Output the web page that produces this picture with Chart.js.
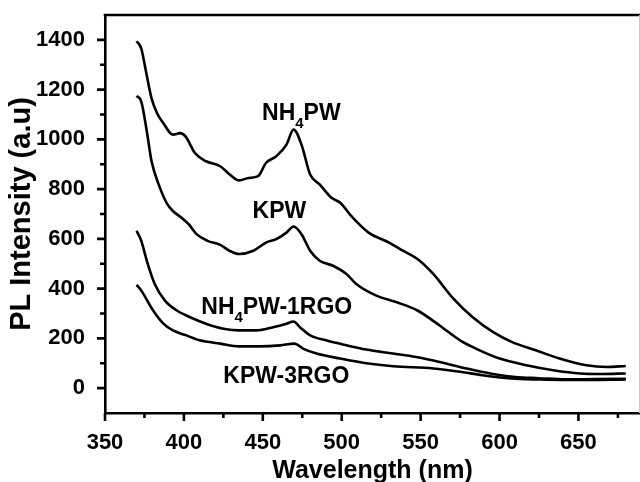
<!DOCTYPE html>
<html lang="en">
<head>
    <meta charset="UTF-8">
    <title>PL Intensity</title>
    <script src="https://cdn.jsdelivr.net/npm/chart.js"></script>
    <style>
        body { margin: 0; background: #fff; }
        canvas { display: block; }
    </style>
</head>
<body>
    <canvas id="plChart" width="640" height="482"></canvas>

    <script>
        // spectra
        const nh4pwX = [370, 373, 376, 379.5, 383, 387, 393, 397.5, 401, 407, 414, 423, 429, 435, 441, 447, 452, 458.5, 465, 469.5, 474.5, 480, 486, 493.5, 499, 507, 517, 530, 539, 548, 558, 570, 583, 596, 608, 623, 638, 655, 668, 680];
        const nh4pwY = [1395, 1365, 1272, 1165, 1105, 1065, 1019, 1025, 1012, 945, 912, 892, 859, 835, 845, 852, 905, 932, 979, 1040, 979, 859, 819, 765, 745, 685, 625, 585, 552, 519, 459, 365, 285, 225, 185, 152, 119, 92, 85, 89];

        const kpwX = [370, 373, 376.5, 379.5, 384, 389, 393, 398.5, 403, 408, 415, 423, 429, 435, 444, 452, 458.5, 465, 469.5, 474.5, 480, 486, 494.5, 503, 509, 522, 535, 548, 562, 575, 585, 600, 617, 634, 651, 665, 680];
        const kpwY = [1175, 1152, 1032, 912, 819, 745, 712, 685, 659, 619, 592, 576, 552, 539, 552, 585, 599, 625, 650, 619, 552, 512, 492, 459, 420, 372, 345, 312, 252, 192, 159, 119, 92, 72, 59, 57, 59];

        const nh4pwRgoX = [370, 373, 376.5, 381.5, 388, 395.5, 404, 414, 425, 435, 446, 456.5, 465, 469.5, 473.5, 480, 490, 503, 515.5, 532.5, 547, 562, 579, 595, 610, 625, 642, 660, 680];
        const nh4pwRgoY = [632, 592, 512, 419, 352, 312, 285, 259, 239, 232, 232, 245, 259, 268, 245, 212, 192, 172, 155, 139, 125, 105, 79, 58, 45, 40, 35, 36, 37];

        const kpwRgoX = [370, 373, 380.5, 387, 393, 401.5, 410, 423, 435, 448, 461, 470, 475.5, 484, 499, 515.5, 532.5, 558, 575, 589, 610, 630, 650, 680];
        const kpwRgoY = [415, 392, 312, 259, 232, 212, 192, 179, 168, 168, 172, 179, 159, 139, 119, 100, 88, 79, 66, 52, 38, 34, 33, 35];

        // axis ticks
        const xTicks = [350, 400, 450, 500, 550, 600, 650];
        const xMinor = [375, 425, 475, 525, 575, 625, 675];
        const yTicks = [0, 200, 400, 600, 800, 1000, 1200, 1400];
        const yMinor = [100, 300, 500, 700, 900, 1100, 1300];

        // curve labels: [main text, subscript, rest, wavelength, intensity]
        const curveLabels = [
            ['NH', '4', 'PW', 449.5, 1079],
            ['KPW', '', '', 443.5, 684],
            ['NH', '4', 'PW-1RGO', 411, 299],
            ['KPW-3RGO', '', '', 425, 19]
        ];

        const FONT = '"Liberation Sans", Arial, sans-serif';

        function toPoints(xs, ys) {
            return xs.map((x, i) => ({ x: x, y: ys[i] }));
        }

        function line(label, xs, ys) {
            return {
                label: label,
                data: toPoints(xs, ys),
                borderColor: '#000',
                borderWidth: 2.6,
                pointRadius: 0,
                fill: false,
                cubicInterpolationMode: 'monotone'
            };
        }

        // no extra room for the end labels, the frame is set by hand
        function noPad(s) {
            s.paddingTop = 0;
            s.paddingBottom = 0;
            s.paddingLeft = 0;
            s.paddingRight = 0;
        }

        const frame = {
            id: 'frame',
            afterDraw(chart) {
                const ctx = chart.ctx;
                const a = chart.chartArea;
                const xs = chart.scales.x, ys = chart.scales.y;
                ctx.save();
                ctx.strokeStyle = '#000';
                ctx.lineWidth = 2.6;
                ctx.lineCap = 'butt';

                // top edge
                ctx.beginPath();
                ctx.moveTo(a.left - 1.3, a.top);
                ctx.lineTo(a.right, a.top);
                ctx.stroke();

                // outward ticks, long on labels, short between
                ctx.beginPath();
                yTicks.forEach(v => {
                    const p = ys.getPixelForValue(v);
                    ctx.moveTo(a.left, p); ctx.lineTo(a.left - 8, p);
                });
                yMinor.forEach(v => {
                    const p = ys.getPixelForValue(v);
                    ctx.moveTo(a.left, p); ctx.lineTo(a.left - 5, p);
                });
                xTicks.forEach(v => {
                    const p = xs.getPixelForValue(v);
                    ctx.moveTo(p, a.bottom); ctx.lineTo(p, a.bottom + 8);
                });
                xMinor.forEach(v => {
                    const p = xs.getPixelForValue(v);
                    ctx.moveTo(p, a.bottom); ctx.lineTo(p, a.bottom + 5);
                });
                ctx.stroke();

                // faint right edge of the cropped frame
                ctx.strokeStyle = '#c8c8c8';
                ctx.lineWidth = 1;
                ctx.beginPath();
                ctx.moveTo(a.right - 0.5, a.top);
                ctx.lineTo(a.right - 0.5, a.bottom);
                ctx.stroke();

                // curve names
                ctx.fillStyle = '#000';
                ctx.textBaseline = 'alphabetic';
                ctx.textAlign = 'left';
                curveLabels.forEach(l => {
                    let x = xs.getPixelForValue(l[3]);
                    const y = ys.getPixelForValue(l[4]);
                    ctx.font = 'bold 23px ' + FONT;
                    ctx.fillText(l[0], x, y);
                    x += ctx.measureText(l[0]).width;
                    if (l[1]) {
                        ctx.font = 'bold 15px ' + FONT;
                        ctx.fillText(l[1], x, y + 8);
                        x += ctx.measureText(l[1]).width;
                    }
                    if (l[2]) {
                        ctx.font = 'bold 23px ' + FONT;
                        ctx.fillText(l[2], x, y);
                    }
                });
                ctx.restore();
            }
        };

        new Chart(document.getElementById('plChart'), {
            type: 'line',
            data: {
                datasets: [
                    line('NH4PW', nh4pwX, nh4pwY),
                    line('KPW', kpwX, kpwY),
                    line('NH4PW-1RGO', nh4pwRgoX, nh4pwRgoY),
                    line('KPW-3RGO', kpwRgoX, kpwRgoY)
                ]
            },
            options: {
                responsive: false,
                animation: false,
                layout: { padding: { top: 15, right: 0, bottom: 0, left: 0 } },
                plugins: {
                    legend: { display: false },
                    tooltip: { enabled: false }
                },
                scales: {
                    x: {
                        type: 'linear',
                        min: 350,
                        max: 689,
                        afterFit: s => { s.height = 69; noPad(s); },
                        afterBuildTicks: s => { s.ticks = xTicks.map(v => ({ value: v })); },
                        grid: { display: false },
                        border: { display: true, color: '#000', width: 2.6 },
                        ticks: {
                            autoSkip: false,
                            maxRotation: 0,
                            padding: 9,
                            color: '#000',
                            font: { family: FONT, size: 22, weight: 'bold' },
                            callback: v => String(v)
                        },
                        title: {
                            display: true,
                            text: 'Wavelength (nm)',
                            color: '#000',
                            padding: { top: 0, bottom: -2 },
                            font: { family: FONT, size: 25, weight: 'bold', lineHeight: 1 }
                        }
                    },
                    y: {
                        min: -100,
                        max: 1500,
                        afterFit: s => { s.width = 105; noPad(s); },
                        afterBuildTicks: s => { s.ticks = yTicks.map(v => ({ value: v })); },
                        grid: { display: false },
                        border: { display: true, color: '#000', width: 2.6 },
                        ticks: {
                            autoSkip: false,
                            padding: 12,
                            color: '#000',
                            font: { family: FONT, size: 22, weight: 'bold' },
                            callback: v => String(v)
                        },
                        title: {
                            display: true,
                            text: 'PL Intensity (a.u)',
                            color: '#000',
                            padding: { top: 7, bottom: 0 },
                            font: { family: FONT, size: 29, weight: 'bold', lineHeight: 1 }
                        }
                    }
                }
            },
            plugins: [frame]
        });
    </script>
</body>
</html>
